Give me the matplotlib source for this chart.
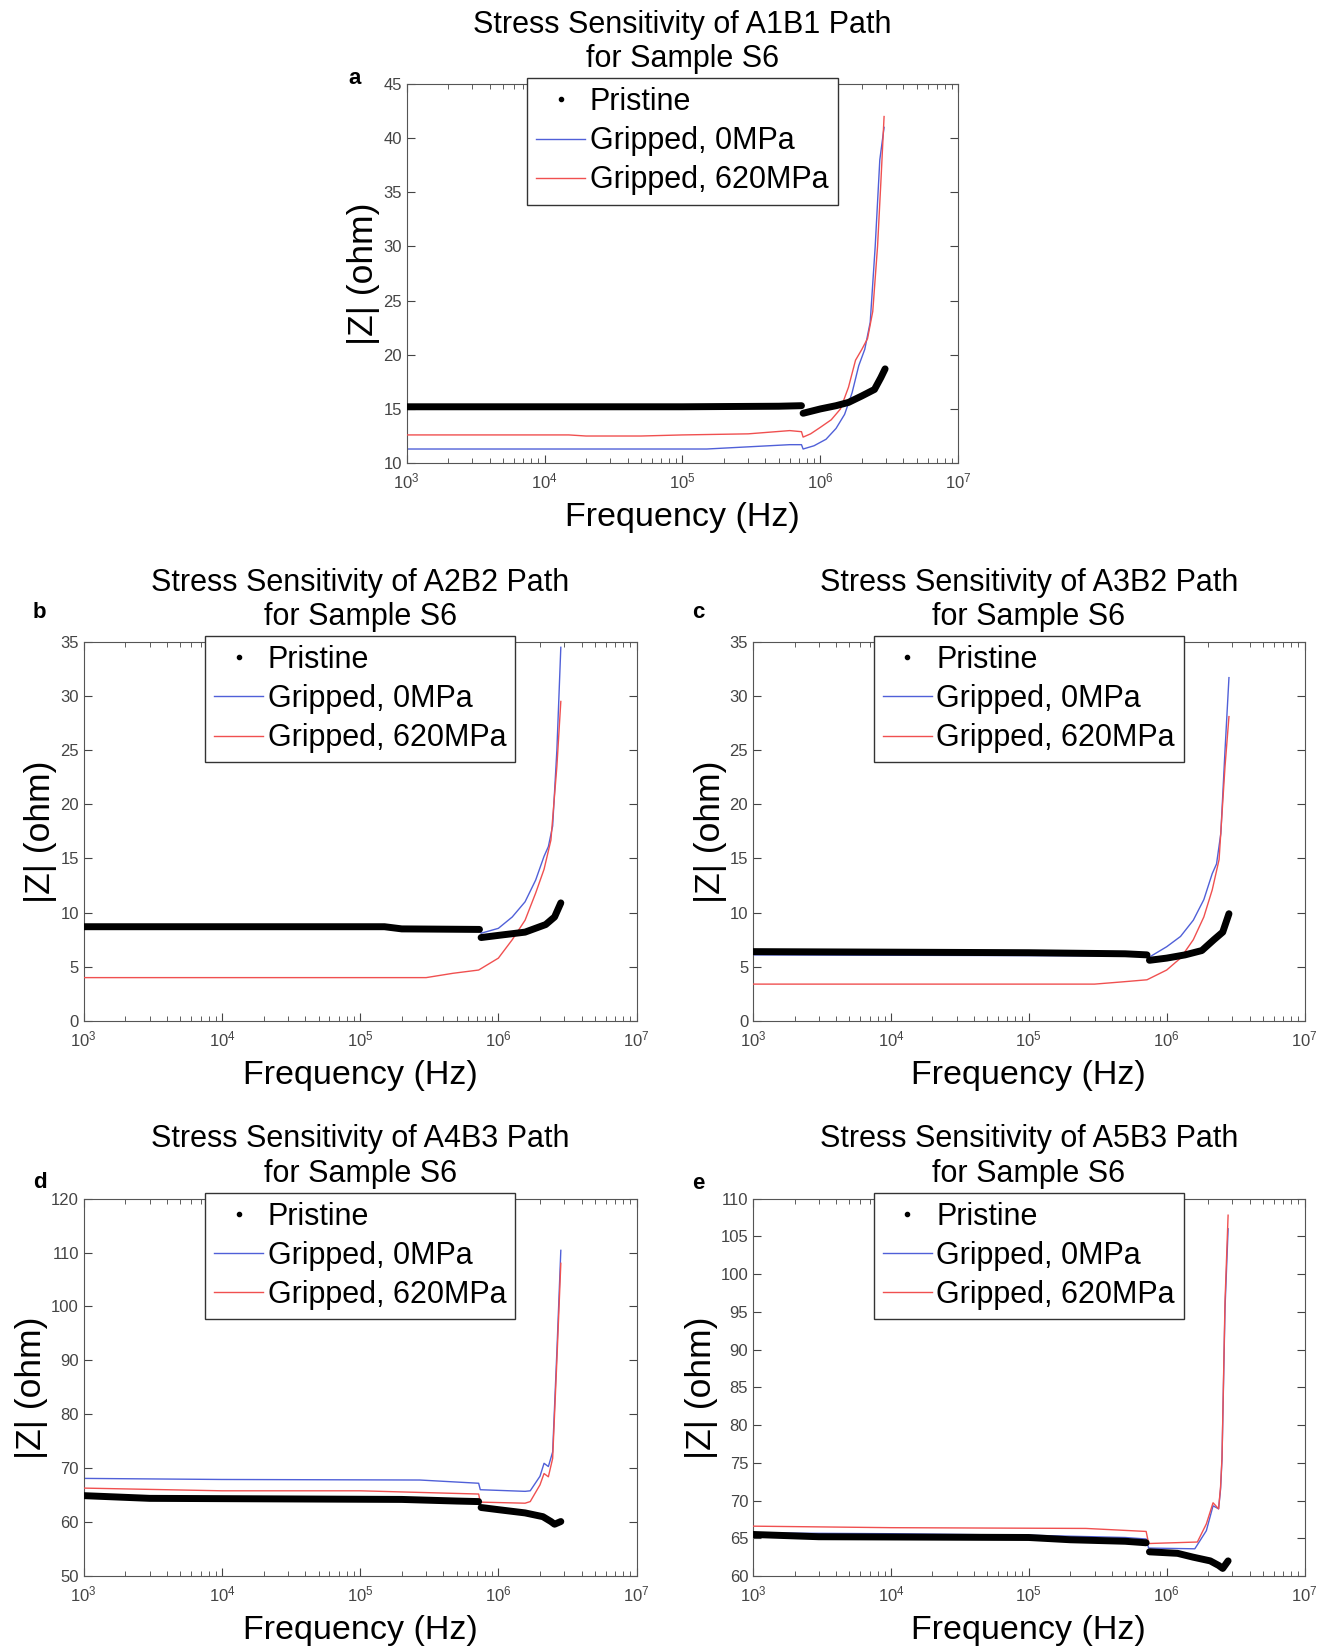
import numpy as np
import matplotlib.pyplot as plt
from matplotlib.lines import Line2D

plt.rcParams['font.family'] = ['Liberation Sans', 'DejaVu Sans']
plt.rcParams['mathtext.fontset'] = 'custom'
plt.rcParams['mathtext.rm'] = 'Liberation Sans'
plt.rcParams['mathtext.it'] = 'Liberation Sans:italic'

nan = np.nan

# ---- panel a : A1B1 ----
fp_a = [1e3, 1e4, 1e5, 5e5, 7.3e5, nan, 7.5e5, 1e6, 1.3e6, 1.6e6, 2.0e6, 2.47e6, 2.75e6, 2.95e6]
zp_a = [15.2, 15.2, 15.2, 15.25, 15.3, nan, 14.6, 15.0, 15.3, 15.6, 16.2, 16.8, 17.9, 18.7]
fb_a = [1e3, 1.5e5, 3e5, 6e5, 7.3e5, 7.5e5, 9e5, 1.1e6, 1.3e6, 1.5e6, 1.7e6, 1.9e6, 2.1e6, 2.3e6, 2.5e6, 2.7e6, 2.9e6]
zb_a = [11.3, 11.3, 11.5, 11.7, 11.7, 11.3, 11.6, 12.2, 13.2, 14.5, 16.5, 19.0, 20.5, 23.0, 30.0, 38.0, 41.0]
fr_a = [1e3, 1.5e4, 2e4, 5e4, 1e5, 3e5, 6e5, 7.3e5, 7.5e5, 8.5e5, 1e6, 1.2e6, 1.4e6, 1.6e6, 1.8e6, 2.0e6, 2.2e6, 2.4e6, 2.6e6, 2.75e6, 2.9e6]
zr_a = [12.6, 12.6, 12.5, 12.5, 12.6, 12.7, 13.0, 12.9, 12.4, 12.7, 13.3, 14.0, 15.0, 17.0, 19.5, 20.5, 21.5, 24.0, 30.0, 36.0, 42.0]

# ---- panel b : A2B2 ----
fp_b = [1e3, 1.5e5, 2e5, 7.3e5, nan, 7.5e5, 1e6, 1.56e6, 2.2e6, 2.55e6, 2.83e6]
zp_b = [8.7, 8.7, 8.5, 8.45, nan, 7.7, 7.9, 8.2, 8.9, 9.6, 10.9]
fb_b = [1e3, 7.2e5, 7.5e5, 1e6, 1.26e6, 1.56e6, 1.86e6, 2.14e6, 2.3e6, 2.47e6, 2.65e6, 2.83e6]
zb_b = [8.6, 8.5, 8.1, 8.55, 9.6, 11.0, 13.0, 15.2, 16.1, 18.0, 25.0, 34.5]
fr_b = [1e3, 3e5, 4.7e5, 7.2e5, 1e6, 1.26e6, 1.56e6, 1.86e6, 2.14e6, 2.4e6, 2.65e6, 2.83e6]
zr_b = [4.0, 4.0, 4.4, 4.7, 5.8, 7.5, 9.3, 11.8, 14.0, 16.7, 23.5, 29.5]

# ---- panel c : A3B2 ----
fp_c = [1e3, 1e5, 5e5, 7.2e5, nan, 7.5e5, 1e6, 1.36e6, 1.8e6, 2.2e6, 2.55e6, 2.83e6]
zp_c = [6.4, 6.3, 6.2, 6.1, nan, 5.6, 5.8, 6.1, 6.5, 7.5, 8.2, 9.9]
fb_c = [1e3, 7.2e5, 7.5e5, 1e6, 1.26e6, 1.56e6, 1.86e6, 2.14e6, 2.3e6, 2.47e6, 2.65e6, 2.83e6]
zb_c = [6.1, 6.0, 5.9, 6.85, 7.8, 9.3, 11.2, 13.6, 14.5, 17.3, 25.0, 31.7]
fr_c = [1e3, 3e5, 4.7e5, 7.2e5, 1e6, 1.26e6, 1.56e6, 1.86e6, 2.14e6, 2.4e6, 2.65e6, 2.83e6]
zr_c = [3.4, 3.4, 3.6, 3.8, 4.7, 5.8, 7.5, 9.6, 12.1, 14.9, 23.5, 28.1]

# ---- panel d : A4B3 ----
fp_d = [1e3, 3e3, 2e5, 5e5, 7.2e5, nan, 7.5e5, 1e6, 1.56e6, 2.1e6, 2.4e6, 2.55e6, 2.83e6]
zp_d = [64.9, 64.4, 64.2, 63.9, 63.8, nan, 62.7, 62.3, 61.7, 61.0, 60.1, 59.6, 60.1]
fb_d = [1e3, 1e4, 2.7e5, 7.2e5, 7.4e5, 1.56e6, 1.7e6, 2.0e6, 2.14e6, 2.3e6, 2.47e6, 2.65e6, 2.83e6]
zb_d = [68.1, 67.9, 67.8, 67.2, 66.0, 65.7, 65.8, 68.5, 70.9, 70.3, 73.0, 91.6, 110.4]
fr_d = [1e3, 1e4, 1e5, 7.2e5, 7.4e5, 1.56e6, 1.7e6, 2.0e6, 2.14e6, 2.3e6, 2.47e6, 2.65e6, 2.83e6]
zr_d = [66.3, 65.8, 65.8, 65.2, 63.7, 63.5, 63.8, 66.9, 69.0, 68.4, 71.8, 90.0, 108.0]

# ---- panel e : A5B3 ----
fp_e = [1e3, 3e3, 1e5, 2e5, 5e5, 7.1e5, nan, 7.5e5, 1.2e6, 1.55e6, 2.07e6, 2.38e6, 2.55e6, 2.79e6]
zp_e = [65.5, 65.2, 65.1, 64.8, 64.6, 64.4, nan, 63.2, 63.0, 62.5, 62.0, 61.4, 61.0, 62.0]
fb_e = [1e3, 1e4, 1e5, 5e5, 7.1e5, 7.4e5, 1.6e6, 1.94e6, 2.17e6, 2.38e6, 2.46e6, 2.52e6, 2.65e6, 2.79e6]
zb_e = [65.7, 65.6, 65.4, 65.1, 64.9, 63.7, 63.6, 66.0, 69.3, 68.9, 71.5, 75.5, 95.5, 106.0]
fr_e = [1e3, 1e4, 2.6e5, 7.1e5, 7.4e5, 1.67e6, 1.94e6, 2.17e6, 2.38e6, 2.46e6, 2.52e6, 2.65e6, 2.79e6]
zr_e = [66.6, 66.4, 66.3, 65.9, 64.3, 64.5, 66.9, 69.7, 68.9, 71.8, 75.7, 96.4, 107.8]

paths = ['A1B1', 'A2B2', 'A3B2', 'A4B3', 'A5B3']
letters = ['a', 'b', 'c', 'd', 'e']
ylims = [(10, 45), (0, 35), (0, 35), (50, 120), (60, 110)]
ysteps = [5, 5, 5, 10, 5]
pristine = [(fp_a, zp_a), (fp_b, zp_b), (fp_c, zp_c), (fp_d, zp_d), (fp_e, zp_e)]
grip0 = [(fb_a, zb_a), (fb_b, zb_b), (fb_c, zb_c), (fb_d, zb_d), (fb_e, zb_e)]
grip620 = [(fr_a, zr_a), (fr_b, zr_b), (fr_c, zr_c), (fr_d, zr_d), (fr_e, zr_e)]

# axes boxes in figure fractions (left, bottom, width, height)
boxes = [(0.306, 0.719, 0.415, 0.230),
         (0.063, 0.3805, 0.416, 0.230),
         (0.5666, 0.3805, 0.415, 0.230),
         (0.063, 0.0437, 0.416, 0.229),
         (0.5666, 0.0437, 0.415, 0.229)]
# panel letter spots, axes fraction
letter_xy = [(-0.094, 1.014), (-0.08, 1.078), (-0.099, 1.078),
             (-0.08, 1.042), (-0.099, 1.039)]

blue = '#5060d8'
red = '#f05050'
grey = '#444444'

fig = plt.figure(figsize=(13.29, 16.48), dpi=100)

for i in range(5):
    ax = fig.add_axes(boxes[i])
    ax.plot(grip0[i][0], grip0[i][1], color=blue, lw=1.0, zorder=2)
    ax.plot(grip620[i][0], grip620[i][1], color=red, lw=1.0, zorder=3)
    ax.plot(pristine[i][0], pristine[i][1], color='black', lw=5, zorder=4,
            solid_capstyle='round')
    ax.set_xscale('log')
    ax.set_xlim(1e3, 1e7)
    ax.set_ylim(*ylims[i])
    ax.set_yticks(np.arange(ylims[i][0], ylims[i][1] + 0.1, ysteps[i]))
    ax.tick_params(which='both', direction='in', top=True, right=True,
                   colors=grey, labelsize=12)
    ax.tick_params(which='major', length=6)
    ax.tick_params(which='minor', length=3.5)
    ax.tick_params(axis='x', pad=6)
    for s in ax.spines.values():
        s.set_color('#555555')
    ax.set_title('Stress Sensitivity of %s Path\nfor Sample S6' % paths[i],
                 fontsize=22, pad=12, linespacing=1.2)
    ax.set_xlabel('Frequency (Hz)', fontsize=24.5, labelpad=8)
    ax.set_ylabel('|Z| (ohm)', fontsize=25.5, labelpad=2)
    ax.text(letter_xy[i][0], letter_xy[i][1], letters[i], transform=ax.transAxes,
            fontsize=16, fontweight='bold', ha='center', va='center')
    handles = [Line2D([], [], color='black', marker='.', ls='none', ms=6),
               Line2D([], [], color=blue, lw=1.0),
               Line2D([], [], color=red, lw=1.0)]
    leg = ax.legend(handles, ['Pristine', 'Gripped, 0MPa', 'Gripped, 620MPa'],
                    loc='upper center', bbox_to_anchor=(0.5, 1.016),
                    fontsize=22, fancybox=False, framealpha=1,
                    edgecolor='#333333', handlelength=1.6, handletextpad=0.15,
                    borderpad=0.3, labelspacing=0.3, borderaxespad=0)
    leg.get_frame().set_linewidth(1.0)
    leg.set_zorder(10)

fig.savefig('out.png', dpi=100)
